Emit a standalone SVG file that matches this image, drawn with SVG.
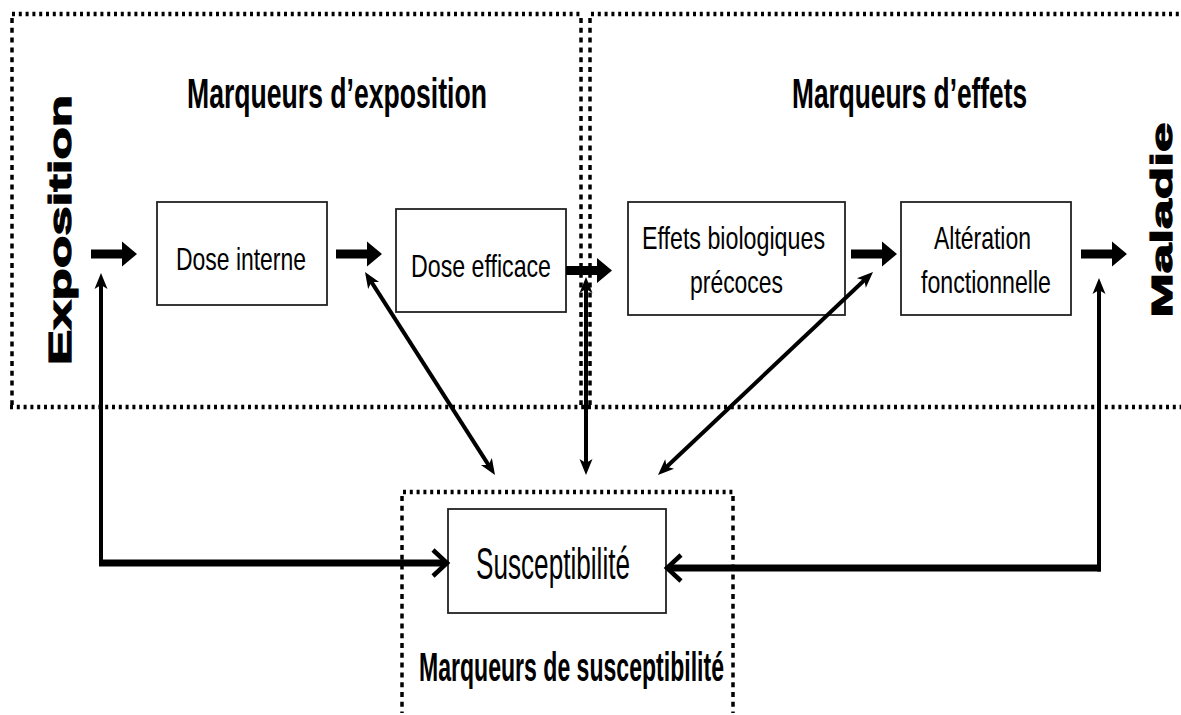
<svg xmlns="http://www.w3.org/2000/svg" width="1181" height="715" viewBox="0 0 1181 715">
<style>
.hdot{stroke:#000;stroke-width:4.5;stroke-dasharray:3 3.8;fill:none}
.vdot{stroke:#000;stroke-width:3.5;stroke-dasharray:5 4.8;fill:none}
.box{fill:#fff;stroke:#222;stroke-width:1.8}
.btxt{font-family:"Liberation Sans",Arial,sans-serif;font-size:32px;fill:#000;text-anchor:middle}
.title{font-family:"Liberation Sans",Arial,sans-serif;font-weight:bold;font-size:43px;fill:#000;text-anchor:middle}
.side{font-family:"Liberation Sans",Arial,sans-serif;font-weight:bold;font-size:32px;fill:#000;stroke:#000;stroke-width:1.2;text-anchor:middle}
.thin{stroke:#000;stroke-width:4;fill:none}
.thick{stroke:#000;stroke-width:7;fill:none}
</style>
<defs>
<path id="bigArrow" d="M0,-4.5 H31 V-12.5 L46,0 L31,12.5 V4.5 H0 Z" fill="#000"/>
<marker id="head" markerUnits="userSpaceOnUse" markerWidth="20" markerHeight="16" viewBox="-10 -8 20 16" refX="0" refY="0" orient="auto-start-reverse">
<path d="M8,0 L-8,-6.5 L-4,0 L-8,6.5 Z" fill="#000"/>
</marker>
<marker id="chev" markerUnits="userSpaceOnUse" markerWidth="24" markerHeight="34" viewBox="-18 -17 24 34" refX="0" refY="0" orient="auto">
<path d="M-13,-13 L1,0 L-13,13" fill="none" stroke="#000" stroke-width="4.5" stroke-miterlimit="10"/>
</marker>
</defs>

<g id="frames">
<line class="vdot" x1="12" y1="18" x2="12" y2="405"/>
<line class="hdot" x1="12" y1="14" x2="580" y2="14"/>
<line class="vdot" x1="581" y1="18" x2="581" y2="405"/>
<line class="hdot" x1="591" y1="14" x2="1181" y2="14"/>
<line class="vdot" x1="590" y1="18" x2="590" y2="405"/>
<line class="hdot" x1="10" y1="407" x2="1181" y2="407"/>
<line class="hdot" x1="403" y1="492" x2="733" y2="492"/>
<line class="vdot" x1="402" y1="496" x2="402" y2="713"/>
<line class="vdot" x1="733" y1="496" x2="733" y2="713"/>
</g>

<g id="label-exposition">
<text class="side" transform="translate(71,230) rotate(-90)" textLength="270" lengthAdjust="spacingAndGlyphs">Exposition</text>
</g>
<g id="label-maladie">
<text class="side" style="font-size:30px" transform="translate(1172,220) rotate(-90)" textLength="195" lengthAdjust="spacingAndGlyphs">Maladie</text>
</g>
<g id="title-exposition">
<text class="title" x="337" y="108" textLength="300" lengthAdjust="spacingAndGlyphs">Marqueurs d’exposition</text>
</g>
<g id="title-effets">
<text class="title" x="909.5" y="108" textLength="235" lengthAdjust="spacingAndGlyphs">Marqueurs d’effets</text>
</g>
<g id="title-susceptibilite">
<text class="title" style="font-size:40px" x="571.5" y="681" textLength="305" lengthAdjust="spacingAndGlyphs">Marqueurs de susceptibilité</text>
</g>

<g id="node-dose-interne">
<rect class="box" x="157" y="202" width="170" height="103"/>
<text class="btxt" x="241" y="270" textLength="130" lengthAdjust="spacingAndGlyphs">Dose interne</text>
</g>
<g id="node-dose-efficace">
<rect class="box" x="396" y="209" width="170" height="103"/>
<text class="btxt" x="481" y="277" textLength="140" lengthAdjust="spacingAndGlyphs">Dose efficace</text>
</g>
<g id="node-effets">
<rect class="box" x="628" y="202" width="217" height="113"/>
<text class="btxt" x="733.5" y="249" textLength="183" lengthAdjust="spacingAndGlyphs">Effets biologiques</text>
<text class="btxt" x="736.5" y="293" textLength="93" lengthAdjust="spacingAndGlyphs">précoces</text>
</g>
<g id="node-alteration">
<rect class="box" x="901" y="202" width="170" height="113"/>
<text class="btxt" x="982.5" y="249" textLength="97" lengthAdjust="spacingAndGlyphs">Altération</text>
<text class="btxt" x="986" y="293" textLength="130" lengthAdjust="spacingAndGlyphs">fonctionnelle</text>
</g>
<g id="node-susceptibilite">
<rect class="box" x="448" y="509" width="218" height="104"/>
<text class="btxt" style="font-size:44px" x="553" y="579" textLength="154" lengthAdjust="spacingAndGlyphs">Susceptibilité</text>
</g>

<g id="connectors">
<use href="#bigArrow" x="91" y="254"/>
<use href="#bigArrow" x="336" y="254"/>
<use href="#bigArrow" x="566" y="270.5"/>
<use href="#bigArrow" x="851" y="254"/>
<use href="#bigArrow" x="1081" y="254"/>
<line class="thin" x1="369.3" y1="278.7" x2="490.7" y2="468.3" marker-start="url(#head)" marker-end="url(#head)"/>
<line class="thin" x1="586" y1="285" x2="586" y2="467" marker-start="url(#head)" marker-end="url(#head)"/>
<line class="thin" x1="867.2" y1="277.5" x2="663.8" y2="469.5" marker-start="url(#head)" marker-end="url(#head)"/>
<line class="thin" x1="101" y1="281" x2="101" y2="566" marker-start="url(#head)"/>
<line class="thick" x1="99" y1="563" x2="446" y2="563" marker-end="url(#chev)"/>
<line class="thin" x1="1099" y1="286" x2="1099" y2="571.5" marker-start="url(#head)"/>
<line class="thick" x1="1101" y1="568" x2="668" y2="568" marker-end="url(#chev)"/>
</g>
</svg>
